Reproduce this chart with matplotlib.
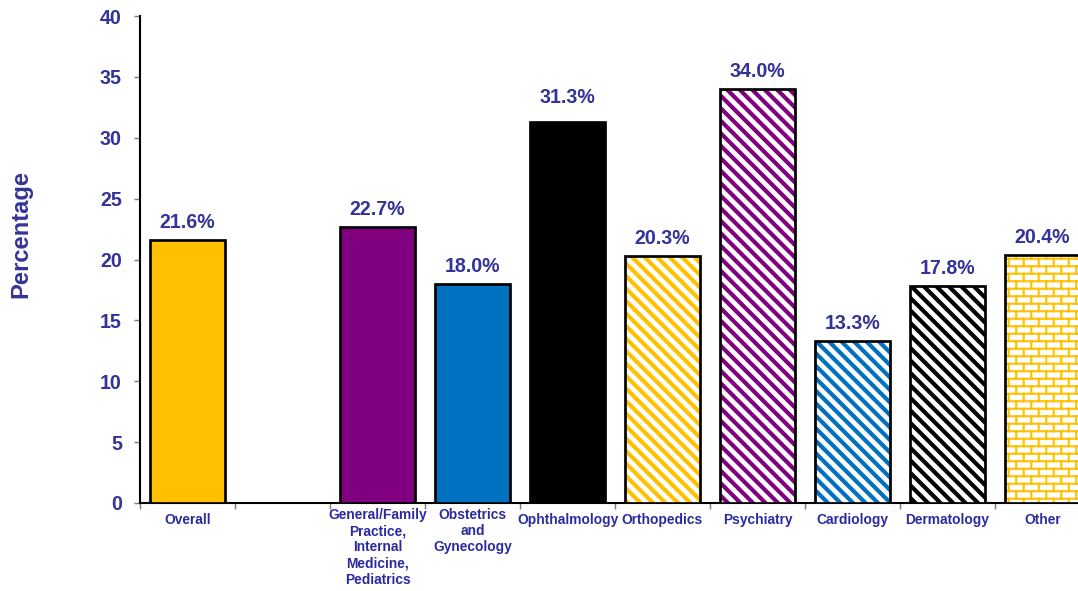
import warnings
warnings.filterwarnings('ignore')
import numpy as np
import matplotlib
matplotlib.use('Agg')
import matplotlib.pyplot as plt
from matplotlib import hatch as mhatch
from matplotlib.path import Path
from matplotlib.transforms import ScaledTranslation

# ---------------- data ----------------
categories = ['Overall', '',
              'General/Family\nPractice,\nInternal\nMedicine,\nPediatrics',
              'Obstetrics\nand\nGynecology', 'Ophthalmology', 'Orthopedics',
              'Psychiatry', 'Cardiology', 'Dermatology', 'Other']
values = [21.6, np.nan, 22.7, 18.0, 31.3, 20.3, 34.0, 13.3, 17.8, 20.4]
y_ticks = [0, 5, 10, 15, 20, 25, 30, 35, 40]

# ---------------- styles ----------------
GOLD, PURPLE, BLUE, BLACK = '#FFC000', '#800080', '#0070C0', '#000000'
BS = chr(92)
face_colors = [GOLD, 'none', PURPLE, BLUE, BLACK, 'white', 'white', 'white', 'white', 'white']
hatch_colors = [None, None, None, None, None, GOLD, PURPLE, BLUE, BLACK, GOLD]
hatches = [None, None, None, None, None, BS * 4, BS * 4, BS * 4, BS * 4, 'b']
hatch_lws = [None, None, None, None, None, 2.0, 2.0, 2.0, 2.0, 1.0]
label_offsets = [5.8, 0, 5.8, 5.8, 9.2, 5.8, 5.8, 5.8, 5.8, 5.8]

TXT = '#333399'
CAT = '#2B2BA0'


# custom brick hatch pattern ('b')
class BrickHatch(mhatch.HatchPatternBase):
    rows = 20
    cols = 10

    def __init__(self, hatch, density):
        n = hatch.count('b')
        if n:
            r, c = self.rows, self.cols
            self.num_vertices = 2 * r + 2 * r * c + 2 * c
        else:
            self.num_vertices = 0

    def set_vertices_and_codes(self, vertices, codes):
        r, c = self.rows, self.cols
        v = []
        for k in range(r):
            y = (k + 0.5) / r
            v += [(0.0, y), (1.0, y)]
        for k in range(r):
            y0 = (k + 0.5) / r
            y1 = min((k + 1.5) / r, 1.0)
            off = 0.25 if k % 2 == 0 else 0.75
            for j in range(c):
                xx = (j + off) / c
                v += [(xx, y0), (xx, y1)]
        off = 0.25 if (r - 1) % 2 == 0 else 0.75
        for j in range(c):
            xx = (j + off) / c
            v += [(xx, 0.0), (xx, 0.5 / r)]
        vertices[:] = np.array(v)
        codes[0::2] = Path.MOVETO
        codes[1::2] = Path.LINETO


mhatch._hatch_types.append(BrickHatch)

plt.rcParams['font.family'] = ['Liberation Sans', 'DejaVu Sans']
plt.rcParams['font.weight'] = 'bold'

DPI = 150
fig = plt.figure(figsize=(1078 / DPI, 591 / DPI), dpi=DPI)
ax = fig.add_axes([140 / 1078, 88 / 591, 950 / 1078, 487 / 591])

x = np.arange(len(categories))
W = 0.79
for i in range(len(categories)):
    if np.isnan(values[i]):
        continue
    if hatches[i] is None:
        ax.bar(x[i], values[i], width=W, color=face_colors[i],
               edgecolor='black', linewidth=1.3, zorder=3)
    else:
        plt.rcParams['hatch.linewidth'] = hatch_lws[i]
        ax.bar(x[i], values[i], width=W, color='white',
               edgecolor=hatch_colors[i], hatch=hatches[i], linewidth=0, zorder=3)
        ax.bar(x[i], values[i], width=W, color='none',
               edgecolor='black', linewidth=1.3, zorder=4)
    ax.annotate(f'{values[i]:.1f}%', (x[i], values[i]), xytext=(0, label_offsets[i]),
                textcoords='offset points', ha='center', va='baseline',
                fontsize=9.4, fontweight='bold', color=TXT)

ax.set_xlim(-0.5, len(categories) - 0.5)
ax.set_ylim(0, 40)
ax.set_yticks(y_ticks)
ax.set_yticklabels([str(t) for t in y_ticks])
ax.tick_params(axis='y', length=2.9, width=0.7, color='#808080', pad=5.8,
               labelsize=9.4, labelcolor=TXT)

# boundaries as major ticks (no labels), category names as minor tick labels
ax.set_xticks(np.arange(len(categories) + 1) - 0.5)
ax.set_xticklabels([])
ax.tick_params(axis='x', which='major', length=2.9, width=0.7, color='#808080')
ax.set_xticks(x, categories, minor=True)
ax.tick_params(axis='x', which='minor', length=0, pad=2.4, labelsize=6.6,
               labelcolor=CAT)
for lab in ax.get_xticklabels(minor=True):
    lab.set_fontweight('bold')
    lab.set_va('top')
    lab.set_ha('center')
    lab.set_multialignment('center')
    if '\n' not in lab.get_text():
        lab.set_transform(lab.get_transform() +
                          ScaledTranslation(0, -5 / DPI, fig.dpi_scale_trans))

for s in ['top', 'right']:
    ax.spines[s].set_visible(False)
ax.spines['left'].set_linewidth(1.0)
ax.spines['bottom'].set_linewidth(1.0)

ax.set_ylabel('Percentage', fontsize=11.4, fontweight='bold', color=TXT)
ax.yaxis.set_label_coords(-0.1137, 0.552)

fig.savefig('out.png', dpi=DPI)
